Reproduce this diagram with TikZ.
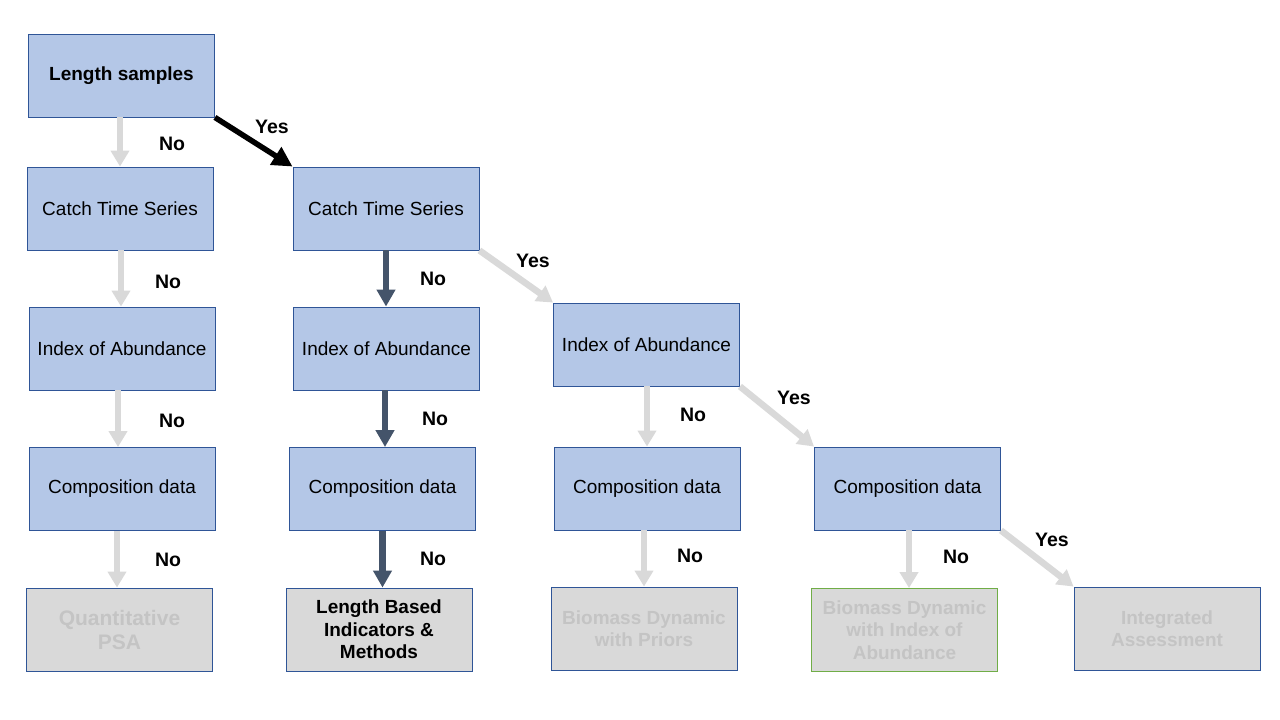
\documentclass[tikz,border=0pt]{standalone}
\usepackage{fontspec}
\setmainfont{Liberation Sans}
\usetikzlibrary{arrows.meta}
\definecolor{boxblue}{HTML}{B4C7E7}
\definecolor{boxline}{HTML}{2F5597}
\definecolor{boxgray}{HTML}{D9D9D9}
\definecolor{txtgray}{HTML}{C4C4C4}
\definecolor{arrgray}{HTML}{D9D9D9}
\definecolor{arrdark}{HTML}{44546A}
\definecolor{bdgreen}{HTML}{70AD47}
\tikzset{
  box/.style={draw=boxline, line width=0.9pt, fill=boxblue, minimum width=186pt, minimum height=83pt, inner sep=0pt, align=center, font=\fontsize{19}{22}\selectfont},
  endbox/.style={box, fill=boxgray, text=txtgray, font=\fontsize{19}{22.5}\selectfont\bfseries},
  lbl/.style={font=\fontsize{19.5}{22}\selectfont\bfseries, inner sep=0pt},
  grayarr/.style={draw=arrgray, line width=6.5pt, -{Triangle[width=18pt,length=16pt]}},
  darkarr/.style={draw=arrdark, line width=6.5pt, -{Triangle[width=18pt,length=17pt]}},
  blackarr/.style={draw=black, line width=5.5pt, -{Triangle[width=20pt,length=20pt]}}
}
\begin{document}
\begin{tikzpicture}[x=1pt,y=-1pt]
\useasboundingbox[fill=white] (0,0) rectangle (1280,720);
% column 1
\node[box, font=\fontsize{19}{22}\selectfont\bfseries] (ls) at (121.5,75.5) {Length samples};
\node[box] (cts1) at (120,208.5) {Catch Time Series};
\node[box] (ioa1) at (122,348.5) {Index of Abundance};
\node[box] (cd1) at (122,489) {Composition data};
\node[endbox, font=\fontsize{21}{24}\selectfont\bfseries] (qpsa) at (119.5,629.5) {Quantitative\\PSA};
% column 2
\node[box] (cts2) at (386,208.5) {Catch Time Series};
\node[box] (ioa2) at (386.5,348.5) {Index of Abundance};
\node[box] (cd2) at (382.5,489) {Composition data};
\node[endbox, text=black] (lbi) at (379,629.5) {Length Based\\Indicators \&\\Methods};
% column 3
\node[box] (ioa3) at (646.5,344.5) {Index of Abundance};
\node[box] (cd3) at (647,488.5) {Composition data};
\node[endbox] (bdp) at (644,628.5) {Biomass Dynamic\\with Priors};
% column 4
\node[box] (cd4) at (907.5,488.5) {Composition data};
\node[endbox, draw=bdgreen] (bdi) at (904.5,630) {Biomass Dynamic\\with Index of\\Abundance};
\node[endbox] (ia) at (1167,628.5) {Integrated\\Assessment};
% connectors
\draw[grayarr] ([xshift=-1.5pt]ls.south) -- ([xshift=0pt]cts1.north);
\draw[blackarr] (ls.south east) -- (cts2.north west);
\draw[grayarr] ([xshift=1pt]cts1.south) -- ([xshift=-1pt]ioa1.north);
\draw[grayarr] ([xshift=-4pt]ioa1.south) -- ([xshift=-4pt]cd1.north);
\draw[grayarr] ([xshift=-5pt]cd1.south) -- ([xshift=-2.5pt]qpsa.north);
\draw[darkarr] (cts2.south) -- ([xshift=-0.5pt]ioa2.north);
\draw[darkarr] ([xshift=-1.5pt]ioa2.south) -- ([xshift=2.5pt]cd2.north);
\draw[darkarr] (cd2.south) -- ([xshift=3.5pt]lbi.north);
\draw[grayarr] (cts2.south east) -- (ioa3.north west);
\draw[grayarr] ([xshift=0.5pt]ioa3.south) -- (cd3.north);
\draw[grayarr] ([xshift=-3pt]cd3.south) -- (bdp.north);
\draw[grayarr] (ioa3.south east) -- (cd4.north west);
\draw[grayarr] ([xshift=1.5pt]cd4.south) -- ([xshift=4.5pt]bdi.north);
\draw[grayarr] (cd4.south east) -- (ia.north west);
% labels
\node[lbl] (n1) at (172,144) {No};
\node[lbl] (y1) at (272,127) {Yes};
\node[lbl] (n2) at (168,282) {No};
\node[lbl] (n3) at (172,421) {No};
\node[lbl] (n4) at (168,560) {No};
\node[lbl] (n5) at (433,279) {No};
\node[lbl] (n6) at (435,419) {No};
\node[lbl] (n7) at (433,559) {No};
\node[lbl] (y2) at (533,261) {Yes};
\node[lbl] (n8) at (693,415) {No};
\node[lbl] (y3) at (794,398) {Yes};
\node[lbl] (n9) at (690,556) {No};
\node[lbl] (n10) at (956,557) {No};
\node[lbl] (y4) at (1052,540) {Yes};
\end{tikzpicture}
\end{document}
